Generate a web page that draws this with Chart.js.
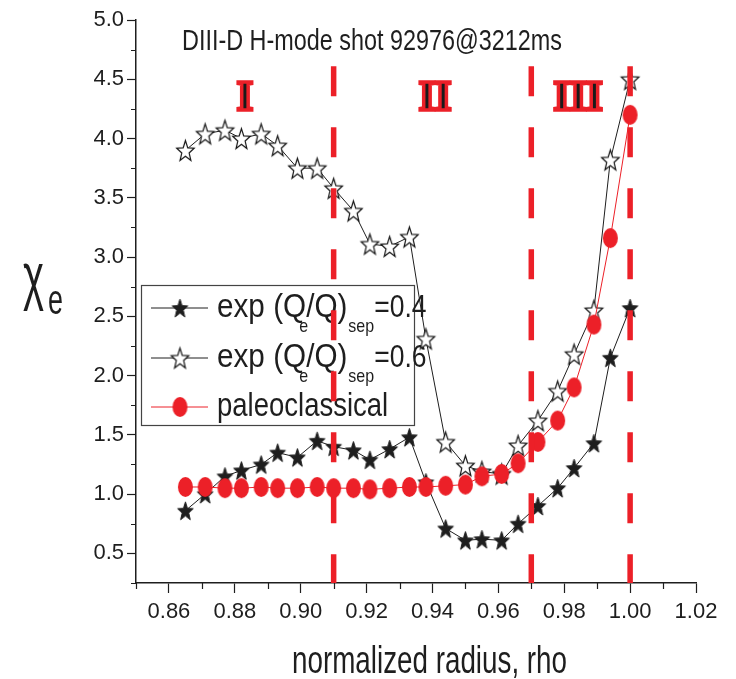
<!DOCTYPE html>
<html>
<head>
<meta charset="utf-8">
<script src="https://cdn.jsdelivr.net/npm/chart.js@4.4.1/dist/chart.umd.min.js"></script>
<style>
    html, body { margin: 0; padding: 0; background: #fff; }
    #wrap { width: 736px; height: 679px; position: relative; }
</style>
</head>
<body>
<div id="wrap"><canvas id="chiChart"></canvas></div>
<script>
// Dados
const rho = [0.865, 0.871, 0.877, 0.882, 0.888, 0.893, 0.899, 0.905, 0.910, 0.916, 0.921, 0.927,
    0.933, 0.938, 0.944, 0.950, 0.955, 0.961, 0.966, 0.972, 0.978, 0.983, 0.989, 0.994, 1.000];
const chiExp04 = [0.86, 1.00, 1.15, 1.20, 1.25, 1.35, 1.31, 1.45, 1.40, 1.37, 1.29, 1.38,
    1.48, 1.10, 0.71, 0.61, 0.62, 0.61, 0.75, 0.90, 1.05, 1.22, 1.43, 2.15, 2.57];
const chiExp06 = [3.90, 4.04, 4.07, 4.00, 4.04, 3.94, 3.75, 3.75, 3.58, 3.39, 3.11, 3.09,
    3.17, 2.31, 1.44, 1.24, 1.19, 1.17, 1.41, 1.62, 1.87, 2.18, 2.55, 3.82, 4.50];
const chiPaleo = [1.06, 1.06, 1.05, 1.05, 1.06, 1.05, 1.05, 1.06, 1.05, 1.05, 1.04, 1.05,
    1.06, 1.06, 1.07, 1.08, 1.15, 1.17, 1.26, 1.44, 1.62, 1.90, 2.43, 3.16, 4.20];

const regionBounds = [0.91, 0.97, 1.00];
const regionLabels = ['I', 'II', 'III'];
const regionLabelRho = [0.8831, 0.9408, 0.9842];

const xTicks = [0.86, 0.88, 0.90, 0.92, 0.94, 0.96, 0.98, 1.00, 1.02];
const xMinor = [0.85, 0.87, 0.89, 0.91, 0.93, 0.95, 0.97, 0.99, 1.01];
const yTicks = [0.5, 1.0, 1.5, 2.0, 2.5, 3.0, 3.5, 4.0, 4.5, 5.0];
const yMinor = [0.25, 0.75, 1.25, 1.75, 2.25, 2.75, 3.25, 3.75, 4.25, 4.75];

const RED = 'rgb(236, 32, 40)';
const INK = '#1e1e1e';
const SANS = "'Liberation Sans', Arial, sans-serif";

// Marcadores desenhados em canvas
function makeStar(r, sy, fill, stroke, lw) {
    const c = document.createElement('canvas');
    c.width = Math.ceil(r * 2 + 4);
    c.height = Math.ceil(r * 2 * sy + 4);
    const g = c.getContext('2d');
    g.translate(c.width / 2, c.height / 2 + r * sy * 0.1);
    g.scale(1, sy);
    g.beginPath();
    for (let i = 0; i < 10; i++) {
        const rad = i % 2 === 0 ? r : r * 0.42;
        const a = -Math.PI / 2 + i * Math.PI / 5;
        g.lineTo(rad * Math.cos(a), rad * Math.sin(a));
    }
    g.closePath();
    g.fillStyle = fill;
    g.fill();
    g.setTransform(1, 0, 0, 1, 0, 0);
    g.lineWidth = lw;
    g.strokeStyle = stroke;
    g.stroke();
    return c;
}

function makeDot(rx, ry) {
    const c = document.createElement('canvas');
    c.width = Math.ceil(rx * 2 + 2);
    c.height = Math.ceil(ry * 2 + 2);
    const g = c.getContext('2d');
    g.beginPath();
    g.ellipse(c.width / 2, c.height / 2, rx, ry, 0, 0, Math.PI * 2);
    g.fillStyle = RED;
    g.fill();
    return c;
}

const starFilled = makeStar(8.2, 1.2, INK, INK, 1);
const starHollow = makeStar(9.2, 1.2, '#fff', '#111', 1.2);
const redDot = makeDot(7.5, 10);

// texto esticado (a figura original tem letras alongadas)
function stretched(ctx, text, x, y, size, sy, color, sx) {
    sx = sx || 1;
    ctx.save();
    ctx.font = size + 'px ' + SANS;
    ctx.fillStyle = color || INK;
    ctx.textAlign = 'left';
    ctx.textBaseline = 'alphabetic';
    ctx.translate(x, y);
    ctx.scale(sx, sy);
    ctx.fillText(text, 0, 0);
    const w = ctx.measureText(text).width * sx;
    ctx.restore();
    return w;
}

// Legenda com subscritos
const legendPlugin = {
    id: 'legendBox',
    beforeDatasetsDraw(chart) {
        const ctx = chart.ctx;
        ctx.save();
        ctx.fillStyle = '#fff';
        ctx.fillRect(141.5, 285.5, 273, 140);
        ctx.strokeStyle = '#444';
        ctx.lineWidth = 1.2;
        ctx.strokeRect(141.5, 285.5, 273, 140);

        const rows = [
            { y: 308, img: starFilled, col: INK, val: '=0.4' },
            { y: 358, img: starHollow, col: INK, val: '=0.6' },
            { y: 407, img: redDot, col: RED, val: null }
        ];
        rows.forEach(r => {
            ctx.strokeStyle = r.col;
            ctx.lineWidth = 1;
            ctx.beginPath();
            ctx.moveTo(151, r.y);
            ctx.lineTo(208, r.y);
            ctx.stroke();
            ctx.drawImage(r.img, 180 - r.img.width / 2, r.y - r.img.height / 2);
            const base = r.y + 9;
            if (r.val) {
                const sx = 1.1;
                ctx.font = '27px ' + SANS;
                const wQ = ctx.measureText('exp (Q').width * sx;
                const w = stretched(ctx, 'exp (Q/Q)', 217, base, 27, 1.2, INK, sx);
                stretched(ctx, 'e', 217 + wQ - 7, base + 15, 16, 1.2);
                const ws = stretched(ctx, 'sep', 217 + w + 1, base + 15, 16, 1.2);
                stretched(ctx, r.val, 217 + w + ws + 1, base, 26.5, 1.2);
            } else {
                stretched(ctx, 'paleoclassical', 217, base, 27.5, 1.2);
            }
        });
        ctx.restore();
    }
};

// Textos, numerais romanos e marcas menores
const decorPlugin = {
    id: 'decor',
    afterDraw(chart) {
        const ctx = chart.ctx;
        const xs = chart.scales.x, ys = chart.scales.y;
        ctx.save();
        // marcas menores
        ctx.strokeStyle = INK;
        ctx.lineWidth = 1.2;
        ctx.beginPath();
        xMinor.forEach(v => {
            const px = Math.round(xs.getPixelForValue(v)) + 0.5;
            ctx.moveTo(px, xs.top);
            ctx.lineTo(px, xs.top + 6);
        });
        yMinor.forEach(v => {
            const py = Math.round(ys.getPixelForValue(v)) + 0.5;
            ctx.moveTo(ys.right, py);
            ctx.lineTo(ys.right - 5, py);
        });
        ctx.stroke();

        // numerais romanos
        ctx.font = "bold 42px 'Liberation Serif', 'Times New Roman', serif";
        ctx.textAlign = 'center';
        ctx.textBaseline = 'alphabetic';
        ctx.lineWidth = 3.5;
        ctx.strokeStyle = RED;
        ctx.fillStyle = '#1a1a1a';
        regionLabels.forEach((t, i) => {
            const px = xs.getPixelForValue(regionLabelRho[i]);
            ctx.fillText(t, px, 110);
            ctx.strokeText(t, px, 110);
        });

        // títulos
        stretched(ctx, 'DIII-D H-mode shot 92976@3212ms', 182, 50, 23.4, 1.24);
        stretched(ctx, 'normalized radius, rho', 292, 673, 27.8, 1.4);
        stretched(ctx, 'χ', 23, 298, 40, 1.6);
        stretched(ctx, 'e', 48, 314, 27, 1.6);
        ctx.restore();
    }
};

const pts = ys => rho.map((r, i) => ({ x: r, y: ys[i] }));
const yMin = 0.25, yMax = 5.0, dashTop = 4.61;

const dashSets = regionBounds.map(b => ({
    data: [{ x: b, y: dashTop }, { x: b, y: yMin }],
    borderColor: RED,
    borderWidth: 5.5,
    borderDash: [30, 31],
    borderCapStyle: 'butt',
    pointRadius: 0,
    showLine: true,
    order: -1
}));

new Chart(document.getElementById('chiChart'), {
    type: 'scatter',
    data: {
        datasets: [
            {
                label: 'paleoclassical',
                data: pts(chiPaleo),
                borderColor: RED,
                borderWidth: 1,
                pointStyle: redDot,
                showLine: true
            },
            {
                label: 'exp 0.4',
                data: pts(chiExp04),
                borderColor: INK,
                borderWidth: 1,
                pointStyle: starFilled,
                showLine: true
            },
            {
                label: 'exp 0.6',
                data: pts(chiExp06),
                borderColor: INK,
                borderWidth: 1,
                pointStyle: starHollow,
                showLine: true
            },
            ...dashSets
        ]
    },
    options: {
        responsive: true,
        maintainAspectRatio: false,
        animation: false,
        layout: { padding: { top: 20, right: 40, left: 0, bottom: 0 } },
        plugins: {
            legend: { display: false },
            tooltip: { enabled: false }
        },
        scales: {
            x: {
                type: 'linear',
                min: 0.85,
                max: 1.02,
                afterBuildTicks: s => { s.ticks = xTicks.map(v => ({ value: v })); },
                afterFit: s => { s.height = 96; },
                ticks: {
                    callback: v => v.toFixed(2),
                    color: INK,
                    font: { family: SANS, size: 22 },
                    padding: 6,
                    maxRotation: 0,
                    autoSkip: false
                },
                grid: { drawOnChartArea: false, tickLength: 10, color: INK, tickWidth: 1.2 },
                border: { color: INK, width: 1.5 }
            },
            y: {
                type: 'linear',
                min: yMin,
                max: yMax,
                afterBuildTicks: s => { s.ticks = yTicks.map(v => ({ value: v })); },
                afterFit: s => { s.width = 136; },
                ticks: {
                    callback: v => v.toFixed(1),
                    color: INK,
                    font: { family: SANS, size: 22 },
                    padding: 3,
                    autoSkip: false
                },
                grid: { drawOnChartArea: false, tickLength: 9, color: INK, tickWidth: 1.2 },
                border: { color: INK, width: 1.5 }
            }
        }
    },
    plugins: [legendPlugin, decorPlugin]
});
</script>
</body>
</html>
